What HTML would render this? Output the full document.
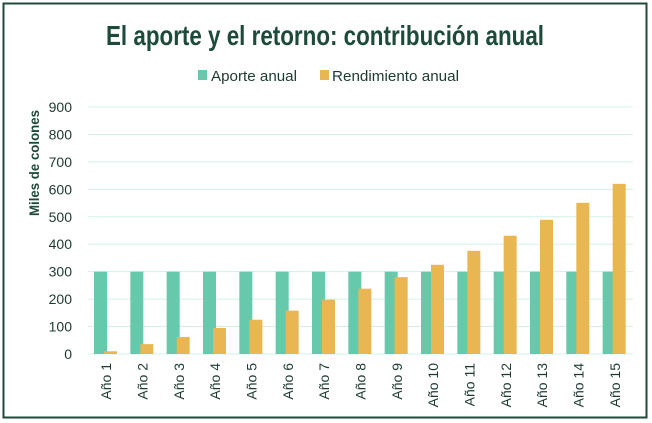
<!DOCTYPE html>
<html><head><meta charset="utf-8"><style>
html,body{margin:0;padding:0;background:#fff;}
svg{display:block;font-family:"Liberation Sans",sans-serif;}
</style></head><body>
<svg id="chart" width="652" height="423">
<rect x="3.5" y="3.5" width="643" height="414" fill="#fff" stroke="#1d4a3b" stroke-width="2"/>
<text x="325" y="45" text-anchor="middle" font-size="28" font-weight="bold" fill="#1d4a3b" textLength="438" lengthAdjust="spacingAndGlyphs" font-family="Liberation Sans Narrow, Liberation Sans, sans-serif">El aporte y el retorno: contribución anual</text>
<g>
<rect x="198" y="70" width="9" height="10" fill="#66c9ab"/>
<text x="211" y="81" font-size="15" fill="#1d3a32" textLength="86" lengthAdjust="spacingAndGlyphs">Aporte anual</text>
<rect x="320" y="70" width="9" height="10" fill="#e8b752"/>
<text x="332" y="81" font-size="15" fill="#1d3a32" textLength="127" lengthAdjust="spacingAndGlyphs">Rendimiento anual</text>
</g>
<text transform="translate(39,163) rotate(-90)" text-anchor="middle" font-size="14" font-weight="bold" fill="#1d4a3b" textLength="106" lengthAdjust="spacingAndGlyphs" font-family="Liberation Sans Narrow, Liberation Sans, sans-serif">Miles de colones</text>
<g id="grid"></g><g id="bars"></g><g id="labels"></g>
</svg>
<script>
const categories=["Año 1","Año 2","Año 3","Año 4","Año 5","Año 6","Año 7","Año 8","Año 9","Año 10","Año 11","Año 12","Año 13","Año 14","Año 15"];
const aporte=[300,300,300,300,300,300,300,300,300,300,300,300,300,300,300];
const rendimiento=[10,36,62,95,125,158,198,238,280,325,376,431,489,551,620];
const yTicks=[0,100,200,300,400,500,600,700,800,900];
const NS="http://www.w3.org/2000/svg";
const x0=88,x1=633,yBase=354,yTop=107,yMax=900;
const step=(x1-x0)/categories.length;
function y(v){return yBase-(v/yMax)*(yBase-yTop);}
function xc(i){return x0+i*step;}
function mk(t,a,p){const e=document.createElementNS(NS,t);for(const k in a)e.setAttribute(k,a[k]);p.appendChild(e);return e;}
const grid=document.getElementById('grid'),bars=document.getElementById('bars'),labels=document.getElementById('labels');
yTicks.forEach(t=>{
 const l=mk('line',{x1:x0,x2:x1,y1:y(t),y2:y(t),stroke:'#d2f0ea','stroke-width':1},grid);
 
 
 const tx=mk('text',{x:72,y:y(t)+5,'text-anchor':'end','font-size':14,fill:'#1d3a32'},grid);
 tx.textContent=t;
 
 
});
categories.forEach((c,i)=>{
 const a=mk('rect',{x:xc(i)+6,y:y(aporte[i]),width:13,height:yBase-y(aporte[i]),fill:'#66c9ab'},bars);
 
 
 const r=mk('rect',{x:xc(i)+16,y:y(rendimiento[i]),width:13,height:yBase-y(rendimiento[i]),fill:'#e8b752'},bars);
 
 
 const cx=xc(i)+step/2+5;
 const t=mk('text',{x:0,y:0,'text-anchor':'end','font-size':14,fill:'#1d3a32',transform:`translate(${cx},363) rotate(-90)`},labels);
 t.textContent=c;
 
 
});
</script>
</body></html>
